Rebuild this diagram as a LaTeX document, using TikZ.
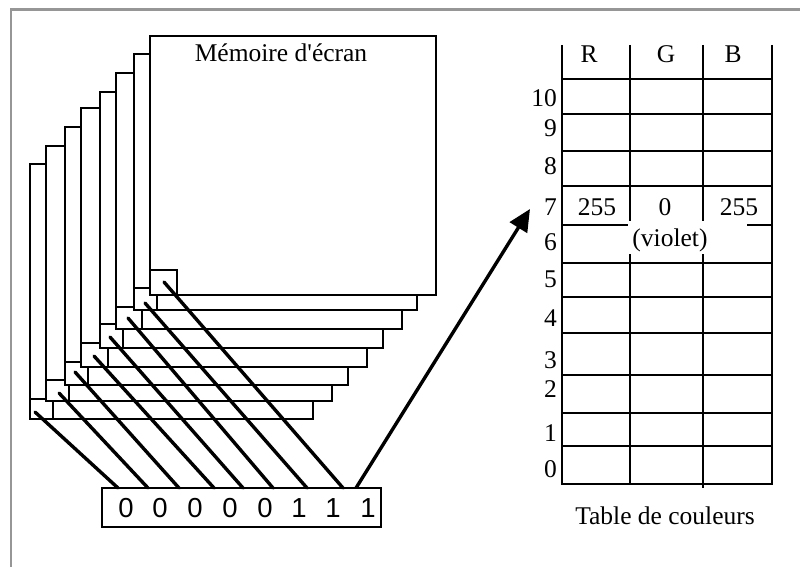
\documentclass[tikz,border=0pt]{standalone}
\usepackage{fontspec}
\setmainfont{Liberation Serif}[Ligatures=TeXOff]
\newfontfamily\bitfont{Liberation Sans}
\usetikzlibrary{arrows.meta}
\definecolor{framegray}{RGB}{150,150,150}
\begin{document}
\begin{tikzpicture}[x=1pt,y=-1pt,
  sheet/.style={draw=black,fill=white,line width=2.5pt},
  sqline/.style={line width=2.5pt},
  wire/.style={line width=3.4pt,line cap=round},
  gridline/.style={line width=2.9pt},
  lbl/.style={font=\fontsize{25.5}{26}\selectfont, inner sep=0pt},
  digit/.style={font=\bitfont\fontsize{27.5}{28}\selectfont, inner sep=0pt}]
\useasboundingbox (0,0) rectangle (800,567);
\draw[framegray, line width=2.3pt] (11,567) -- (11,9.5) -- (800,9.5);

% stacked sheets (back to front)
\foreach \l/\t/\r/\b/\sr/\st in {30/164/313/419/53/399, 46/146/332/401/69/380,
  65/127/348/385/88/362, 81/108/367/367/108/343, 100/92/383/348/123/324,
  116/73/402/329/142/307, 134/54/417/310/157/288, 150/36/436/295/177/270}
{
  \draw[sheet] (\l,\t) rectangle (\r,\b);
  \draw[sqline] (\l,\st) -| (\sr,\b);
}
\node[lbl] (memtitle) at (281,53) {Mémoire d'écran};

% start points in the small squares
\coordinate (s1) at (35,412);
\coordinate (s2) at (59,393);
\coordinate (s3) at (75,372);
\coordinate (s4) at (94,356);
\coordinate (s5) at (110,337);
\coordinate (s6) at (128,318);
\coordinate (s7) at (145,303);
\coordinate (s8) at (164,282);

% bit register
\node[draw, line width=2.3pt, minimum width=279pt, minimum height=39pt, inner sep=0pt] (bits) at (241.5,507.5) {};
\foreach \x/\d [count=\i] in {126/0,160/0,195/0,230/0,265/0,299/1,333/1,368/1}
  \node[digit] (d\i) at (\x,508) {\d};

\foreach \x [count=\i] in {118,148,179,214,243,273,307,343}
  \coordinate (e\i) at (\x,488);
\foreach \i in {1,...,8}
  \draw[wire] (s\i) -- (e\i);

% arrow to colour table
\coordinate (astart) at (356,488);
\coordinate (tip) at (530,209);
\draw[line width=3.4pt,-{Triangle[length=22pt,width=20pt]}] (astart) -- (tip);

% colour table
\foreach \y in {79,114,151,186,263,297,333,375,413,446,484}
  \draw[gridline] (562,\y) -- (772,\y);
\draw[gridline] (562,225) -- (772,225);
\draw[gridline] (562,45) -- (562,485);
\draw[gridline] (772,45) -- (772,485);
\draw[gridline] (630,45) -- (630,485);
\draw[gridline] (703,45) -- (703,488);
\fill[white] (628,221) rectangle (747,254);

\node[lbl] (hR) at (589,54) {R};
\node[lbl] (hG) at (666,54) {G};
\node[lbl] (hB) at (733,54) {B};

\foreach \y/\n in {98/10,128/9,166/8,207/7,242/6,279/5,318/4,360/3,389/2,433/1,469/0}
  \node[lbl, anchor=east] (row\n) at (557,\y) {\n};

\node[lbl] (vR) at (597,207) {255};
\node[lbl] (vG) at (665,207) {0};
\node[lbl] (vB) at (739,207) {255};
\node[lbl] (violet) at (670,240) {(violet)};

\node[lbl] (tabtitle) at (665,516) {Table de couleurs};
\end{tikzpicture}
\end{document}
